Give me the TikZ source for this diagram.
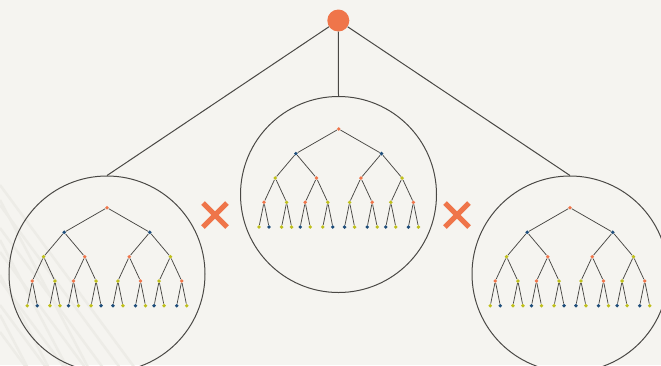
\documentclass[tikz,border=0pt]{standalone}
\usetikzlibrary{shapes.misc}
\definecolor{bgc}{HTML}{F5F4F0}
\definecolor{meshc}{HTML}{EDECE7}
\definecolor{orng}{HTML}{EF754A}
\definecolor{blu}{HTML}{1E4D7A}
\definecolor{ylw}{HTML}{BFBF1C}
\definecolor{edgec}{HTML}{4A4845}
\tikzset{
  dot/.style={circle,inner sep=0pt,minimum size=3.8pt,draw=none},
  tedge/.style={draw=edgec,line width=0.75pt},
  bigcirc/.style={circle,draw=edgec,line width=1pt,minimum size=196pt,inner sep=0pt},
  link/.style={draw=edgec,line width=1pt},
  xmark/.style={cross out,draw=orng,line width=5pt,minimum size=19pt,inner sep=0pt},
  meshline/.style={draw=meshc,line width=2.5pt}
}
\newcommand{\drawbintree}[3]{%
  \begin{scope}[shift={(#2,#3)}]
    \node[dot,fill=orng] (#1-0-1) at (0,0) {};
    \foreach \xx/\cc [count=\i] in {-42.8/blu,42.8/blu}
      {\node[dot,fill=\cc] (#1-1-\i) at (\xx,24.6) {};}
    \foreach \xx/\cc [count=\i] in {-63.4/ylw,-22.2/orng,22.2/orng,63.4/ylw}
      {\node[dot,fill=\cc] (#1-2-\i) at (\xx,49) {};}
    \foreach \xx/\cc [count=\i] in {-74.7/orng,-52.1/ylw,-33.5/orng,-10.9/ylw,10.9/ylw,33.5/orng,52.1/ylw,74.7/orng}
      {\node[dot,fill=\cc] (#1-3-\i) at (\xx,73.3) {};}
    \foreach \xx/\cc [count=\i] in {-79.7/ylw,-69.7/blu,-57.1/ylw,-47.1/ylw,-38.5/blu,-28.5/ylw,-15.9/ylw,-5.9/blu,5.9/blu,15.9/ylw,28.5/blu,38.5/ylw,47.1/blu,57.1/ylw,69.7/blu,79.7/ylw}
      {\node[dot,fill=\cc] (#1-4-\i) at (\xx,98) {};}
    \foreach \lv/\pl/\n in {1/0/2,2/1/4,3/2/8,4/3/16}{
      \foreach \i in {1,...,\n}{
        \pgfmathtruncatemacro{\p}{(\i+1)/2}
        \draw[tedge] (#1-\pl-\p) -- (#1-\lv-\i);
      }
    }
  \end{scope}%
}
\begin{document}
\begin{tikzpicture}[x=1pt,y=-1pt]
  \useasboundingbox (0,0) rectangle (661,365);
  \clip (0,0) rectangle (661,365);
  \fill[bgc] (0,0) rectangle (661,365);
  % faint background mesh
  \foreach \a/\b in {0/185,0/205,0/228,0/252,0/280,0/305,0/332}{
    \draw[meshline] (\a,\b) -- ++(140,190);
  }
  \foreach \a/\b in {0/200,0/240,0/275,0/315}{
    \draw[meshline] (\a,\b) -- ++(100,190);
  }
  % big circles
  \node[bigcirc] (CL) at (107,274) {};
  \node[bigcirc] (CM) at (338.5,194.5) {};
  \node[bigcirc] (CR) at (570,274) {};
  % root
  \node[circle,fill=orng,inner sep=0pt,minimum size=22pt] (root) at (338.3,20.5) {};
  \draw[link] (root) -- (CL.north);
  \draw[link] (root) -- (CM.north);
  \draw[link] (root) -- (CR.north);
  % trees
  \drawbintree{TL}{107}{207.7}
  \drawbintree{TM}{338.7}{129}
  \drawbintree{TR}{570}{207.7}
  % multiplication marks
  \node[xmark] (x1) at (215,215) {};
  \node[xmark] (x2) at (457,215) {};
\end{tikzpicture}
\end{document}
